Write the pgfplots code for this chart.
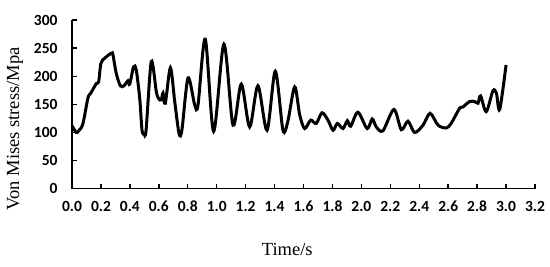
\documentclass[border=0pt]{standalone}
\usepackage{fontspec}
\setmainfont{Liberation Serif}
\newfontfamily\tickfont{Carlito}
\usepackage{pgfplots}
\pgfplotsset{compat=1.18}
\begin{document}
\begin{tikzpicture}
\begin{axis}[
  scale only axis, width=463pt, height=168.7pt,
  xmin=0, xmax=3.2, ymin=0, ymax=300,
  axis lines=left, axis line style={-, line width=1.4pt},
  xtick={0,0.2,0.4,0.6,0.8,1.0,1.2,1.4,1.6,1.8,2.0,2.2,2.4,2.6,2.8,3.0,3.2},
  ytick={0,50,100,150,200,250,300},
  tick align=inside, major tick length=4.5pt,
  tick style={line width=1.4pt, black},
  /pgf/number format/assume math mode=true,
  xticklabel style={/pgf/number format/.cd, fixed, fixed zerofill, precision=1, /tikz/.cd, yshift=-9pt},
  yticklabel style={xshift=-11pt},
  ticklabel style={font=\tickfont\bfseries\fontsize{15.5}{15.5}\selectfont},
  xlabel={Time/s}, ylabel={Von Mises stress/Mpa},
  label style={font=\fontsize{18.5}{18.5}\selectfont},
  xlabel style={at={(axis description cs:0.465,-0.363)}, anchor=center},
  ylabel style={at={(axis description cs:-0.123,0.354)}, anchor=center},
  clip=false,
]
\addplot[black, line width=3pt, smooth, tension=0.5] coordinates {
(0.000,112) (0.030,100) (0.050,104) (0.076,116) (0.110,161) (0.130,170)
(0.168,187) (0.184,190) (0.200,223) (0.226,232) (0.272,241) (0.283,238)
(0.306,205) (0.334,183) (0.359,183) (0.387,192) (0.399,186) (0.426,217)
(0.444,211) (0.468,161) (0.484,104) (0.498,98) (0.512,104) (0.548,226)
(0.583,172) (0.600,160) (0.617,158) (0.629,170) (0.645,152) (0.680,215)
(0.710,155) (0.740,98) (0.760,105) (0.802,197) (0.848,149) (0.871,149)
(0.921,266) (0.979,102) (1.050,257) (1.113,113) (1.170,186) (1.228,110)
(1.285,183) (1.348,104) (1.405,209) (1.458,104) (1.492,120) (1.539,181)
(1.574,131) (1.608,107) (1.650,122) (1.688,116) (1.728,135) (1.769,122)
(1.804,104) (1.834,116) (1.873,107) (1.903,121) (1.926,111) (1.976,136)
(2.040,107) (2.075,124) (2.103,110) (2.149,103) (2.225,141) (2.276,105)
(2.322,120) (2.368,100) (2.426,113) (2.475,134) (2.530,113) (2.587,108)
(2.620,116) (2.679,143) (2.700,145) (2.748,155) (2.783,155) (2.806,152)
(2.824,165) (2.863,137) (2.909,174) (2.933,170) (2.956,141) (3.000,220)
};
\end{axis}
\pgfresetboundingbox
\useasboundingbox (-72pt,-77.3pt) rectangle (478pt,188.7pt);
\end{tikzpicture}
\end{document}
